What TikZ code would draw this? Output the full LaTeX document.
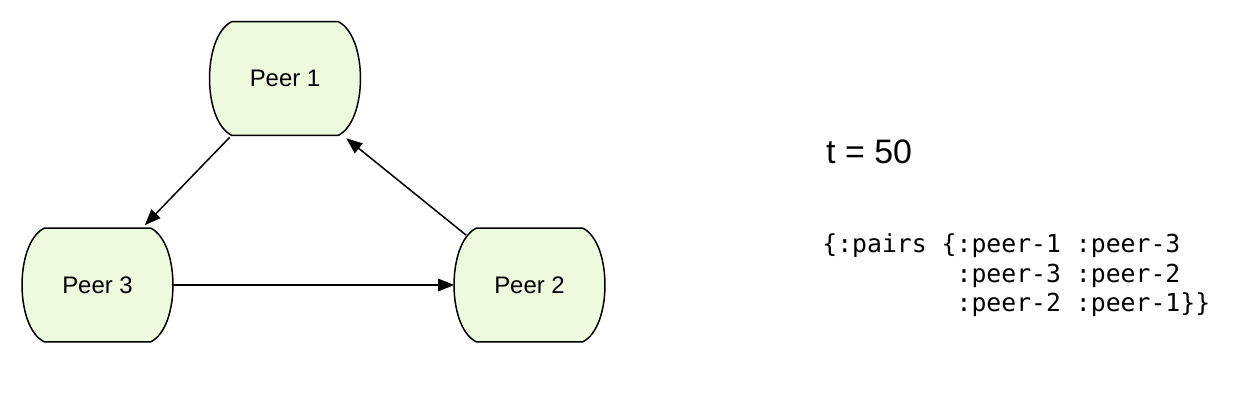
\documentclass[tikz,border=0pt]{standalone}
\usepackage{fontspec}
\setmainfont{Liberation Sans}
\newfontfamily\codefont{DejaVu Sans Mono}
\usetikzlibrary{arrows.meta,backgrounds}

\definecolor{peerfill}{RGB}{238,250,222}

\tikzset{
  peer/.style={minimum width=3cm, minimum height=2.26cm, inner sep=0pt,
    font=\fontsize{13.6}{16}\selectfont},
  link/.style={-{Triangle[length=3.2mm,width=2.5mm]}, line width=0.85pt}
}

\begin{document}
\begin{tikzpicture}

    \useasboundingbox (0,0) rectangle (24.82,8.16);

    \node[peer] (p1) at (5.70,6.59) {Peer 1};
    \node[peer] (p3) at (1.95,2.46) {Peer 3};
    \node[peer] (p2) at (10.59,2.46) {Peer 2};

    % outlines behind the labels
    \begin{scope}[on background layer]
    \foreach \n in {p1,p2,p3}
      \draw[fill=peerfill, line width=0.85pt]
        ([xshift=0.44cm]\n.north west)
          .. controls +(-0.59,-0.3) and +(-0.59,0.3) .. ([xshift=0.44cm]\n.south west)
        -- ([xshift=-0.44cm]\n.south east)
          .. controls +(0.59,0.3) and +(0.59,-0.3) .. ([xshift=-0.44cm]\n.north east)
        -- cycle;
    \end{scope}

    \draw[link] ([xshift=0.4cm,yshift=-0.04cm]p1.south west) -- ([xshift=-0.56cm,yshift=0.06cm]p3.north east);
    \draw[link] ([xshift=0.24cm,yshift=-0.14cm]p2.north west) -- ([xshift=-0.28cm,yshift=-0.06cm]p1.south east);
    \draw[link] (p3.east) -- (p2.west);

    \node[anchor=west, font=\fontsize{19.3}{23}\selectfont] (time) at (16.40,5.12) {t = 50};

    \node[anchor=north west, align=left, inner sep=0pt,
      font=\codefont\fontsize{14.1}{17}\selectfont] (pairs) at (16.44,3.50)
      {\{:pairs \{:peer-1 :peer-3\\
       \phantom{\{:pairs \{}:peer-3 :peer-2\\
       \phantom{\{:pairs \{}:peer-2 :peer-1\}\}};

\end{tikzpicture}
\end{document}
